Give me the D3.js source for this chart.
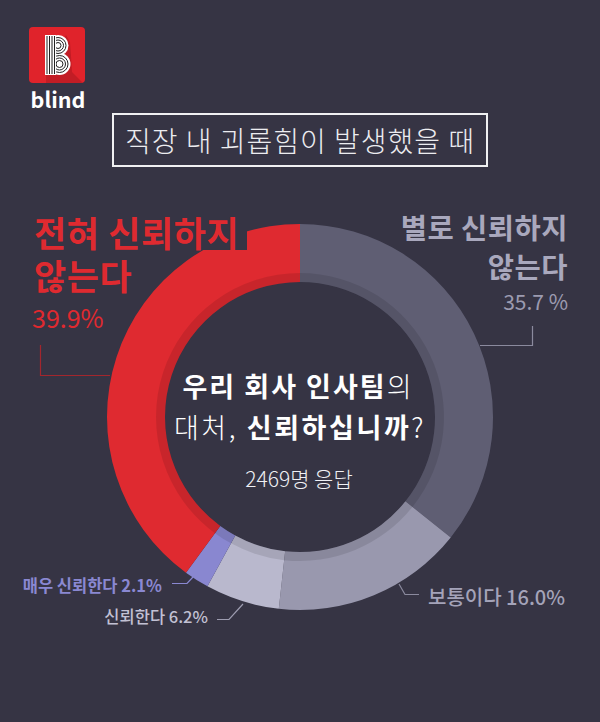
<!DOCTYPE html>
<html><head><meta charset="utf-8">
<script src="https://cdn.jsdelivr.net/npm/d3@7"></script>
<style>
html,body{margin:0;padding:0;background:#363444;}
svg{display:block;}
text{font-family:"Noto Sans CJK KR","Noto Sans",sans-serif;}
</style></head>
<body><svg id="c" width="600" height="722"></svg>
<script>
// ---- data ----
const categories = ["별로 신뢰하지 않는다", "보통이다", "신뢰한다", "매우 신뢰한다", "전혀 신뢰하지 않는다"];
const values = [35.7, 16.0, 6.2, 2.1, 39.9];
const percentSep = [" ", "", "", "", ""];
const colors = ["#5f5e73", "#9998ae", "#b9b8cd", "#8987d0", "#df2a30"];
const titleText = "직장 내 괴롭힘이 발생했을 때";
const questionBold1 = "우리 회사 인사팀", questionLight1 = "의";
const questionLight2 = "대처, ", questionBold2 = "신뢰하십니까", questionLight3 = "?";
const respondents = "2469명 응답";

const svg = d3.select("#c");
const W = 600, H = 722, BG = "#363444";
svg.append("rect").attr("width", W).attr("height", H).attr("fill", BG);

// ---- logo ----
const logo = svg.append("g");
const defs = svg.append("defs");
defs.append("clipPath").attr("id", "sq").append("rect")
  .attr("x", 29).attr("y", 27).attr("width", 56).attr("height", 56).attr("rx", 4);
logo.append("rect").attr("x", 29).attr("y", 27).attr("width", 56).attr("height", 56).attr("rx", 4).attr("fill", "#e0232b");
logo.append("polygon").attr("clip-path", "url(#sq)")
  .attr("points", "46,75 66,35 70,42 71,56 72,72 100,100 46,100").attr("fill", "#c21d25");
const bg = logo.append("g");
bg.append("circle").attr("cx", 58).attr("cy", 45.5).attr("r", 10.5).attr("fill", "#fff");
bg.append("circle").attr("cx", 59.5).attr("cy", 64).attr("r", 11).attr("fill", "#fff");
[3, 5.5, 8].forEach(rr => {
  bg.append("circle").attr("cx", 58).attr("cy", 45.5).attr("r", rr).attr("fill", "none").attr("stroke", "#222").attr("stroke-width", 1);
  bg.append("circle").attr("cx", 59.5).attr("cy", 64).attr("r", rr + 0.5).attr("fill", "none").attr("stroke", "#222").attr("stroke-width", 1);
});
bg.append("rect").attr("x", 45).attr("y", 35).attr("width", 11).attr("height", 40).attr("fill", "#fff");
[47, 49.5, 52, 54.5].forEach(x => bg.append("line").attr("x1", x).attr("x2", x).attr("y1", 36).attr("y2", 74).attr("stroke", "#222").attr("stroke-width", 1));
logo.append("text").attr("x", 58).attr("y", 108).attr("text-anchor", "middle")
  .attr("font-family", "Lato, 'Noto Sans', sans-serif").attr("font-weight", 700).attr("font-size", 21.5).attr("fill", "#fff").text("blind");

// ---- title box ----
svg.append("rect").attr("x", 113).attr("y", 114).attr("width", 374).attr("height", 52)
  .attr("fill", "none").attr("stroke", "#f0f0f2").attr("stroke-width", 2);
svg.append("text").attr("x", 300).attr("y", 140).attr("text-anchor", "middle").attr("dominant-baseline", "central")
  .attr("font-size", 28).attr("letter-spacing", 1).attr("font-weight", 300).attr("fill", "#ececf0").text(titleText);

// ---- donut ----
const cx = 300, cy = 417, R = 193, r0 = 135;
const pie = d3.pie().sort(null).value(d => d).startAngle(0).endAngle(2 * Math.PI);
const arcs = pie(values);
const arc = d3.arc().innerRadius(r0).outerRadius(R);
const shade = d3.arc().innerRadius(r0).outerRadius(r0 + 9);
const g = svg.append("g").attr("transform", `translate(${cx},${cy})`);
g.selectAll("path.seg").data(arcs).join("path").attr("class", "seg")
  .attr("d", arc).attr("fill", (d, i) => colors[i]);
g.selectAll("path.sh").data(arcs).join("path").attr("class", "sh")
  .attr("d", shade).attr("fill", "#000").attr("fill-opacity", 0.1);

// backdrop notch behind the red heading (cuts into the ring)
svg.append("rect").attr("x", 20).attr("y", 200).attr("width", 227).attr("height", 50).attr("fill", BG);

// ---- center text ----
const fmt = d3.format(".1f");
const t1 = svg.append("text").attr("x", 298).attr("y", 385).attr("text-anchor", "middle").attr("dominant-baseline", "central")
  .attr("font-size", 27).attr("letter-spacing", 2).attr("fill", "#fff");
t1.append("tspan").attr("font-weight", 700).text(questionBold1);
t1.append("tspan").attr("font-weight", 300).text(questionLight1);
const t2 = svg.append("text").attr("x", 300).attr("y", 426).attr("text-anchor", "middle").attr("dominant-baseline", "central")
  .attr("font-size", 27).attr("letter-spacing", 2.6).attr("fill", "#fff");
t2.append("tspan").attr("font-weight", 300).text(questionLight2);
t2.append("tspan").attr("font-weight", 700).text(questionBold2);
t2.append("tspan").attr("font-weight", 300).text(questionLight3);
svg.append("text").attr("x", 299).attr("y", 478).attr("text-anchor", "middle").attr("dominant-baseline", "central")
  .attr("font-size", 21).attr("font-weight", 300).attr("fill", "#f0f0f4").text(respondents);

// ---- labels ----
function split2(s) { const k = s.lastIndexOf(" "); return [s.slice(0, k), s.slice(k + 1)]; }
const pct = i => fmt(values[i]) + percentSep[i] + "%";

// 전혀 신뢰하지 않는다 (index 4)
{
  const [a, b] = split2(categories[4]);
  const t = svg.append("text").attr("dominant-baseline", "central")
    .attr("font-size", 35).attr("letter-spacing", 0.6).attr("font-weight", 700).attr("fill", colors[4]);
  t.append("tspan").attr("x", 34).attr("y", 231).text(a);
  t.append("tspan").attr("x", 34).attr("y", 274).text(b);
  svg.append("text").attr("x", 32).attr("y", 317).attr("dominant-baseline", "central")
    .attr("font-size", 25).attr("font-weight", 400).attr("fill", "#e0292f").text(pct(4));
  svg.append("path").attr("d", "M40.5,345V375.5H110").attr("fill", "none").attr("stroke", "#a3262d").attr("stroke-width", 1.2);
}
// 별로 신뢰하지 않는다 (index 0)
{
  const [a, b] = split2(categories[0]);
  const t = svg.append("text").attr("text-anchor", "end").attr("dominant-baseline", "central")
    .attr("font-size", 28.5).attr("letter-spacing", 0.5).attr("font-weight", 700).attr("fill", "#a9a8bd");
  t.append("tspan").attr("x", 568).attr("y", 226).text(a);
  t.append("tspan").attr("x", 568).attr("y", 265).text(b);
  svg.append("text").attr("x", 568).attr("y", 301).attr("text-anchor", "end").attr("dominant-baseline", "central")
    .attr("font-size", 21).attr("font-weight", 400).attr("fill", "#9c9bb0").text(pct(0));
  svg.append("path").attr("d", "M532.5,326V345.5H480").attr("fill", "none").attr("stroke", "#8b8a9e").attr("stroke-width", 1.2);
}
// 보통이다 (index 1)
svg.append("text").attr("x", 428).attr("y", 596).attr("dominant-baseline", "central")
  .attr("font-size", 20).attr("font-weight", 500).attr("fill", "#a4a3b9").text(categories[1] + " " + pct(1));
svg.append("path").attr("d", "M399,584L405,594.5H419").attr("fill", "none").attr("stroke", "#8b8a9e").attr("stroke-width", 1.2);
// 신뢰한다 (index 2)
svg.append("text").attr("x", 208).attr("y", 616).attr("text-anchor", "end").attr("dominant-baseline", "central")
  .attr("font-size", 16.5).attr("font-weight", 500).attr("fill", "#c2c1d4").text(categories[2] + " " + pct(2));
svg.append("path").attr("d", "M217,619.5H229L243,604").attr("fill", "none").attr("stroke", "#9d9cb0").attr("stroke-width", 1.2);
// 매우 신뢰한다 (index 3)
svg.append("text").attr("x", 162).attr("y", 585).attr("text-anchor", "end").attr("dominant-baseline", "central")
  .attr("font-size", 16.5).attr("font-weight", 700).attr("fill", "#8a88d2").text(categories[3] + " " + pct(3));
svg.append("path").attr("d", "M172,583.5H187L193,577").attr("fill", "none").attr("stroke", "#8a88d2").attr("stroke-width", 1.2);
</script></body></html>
